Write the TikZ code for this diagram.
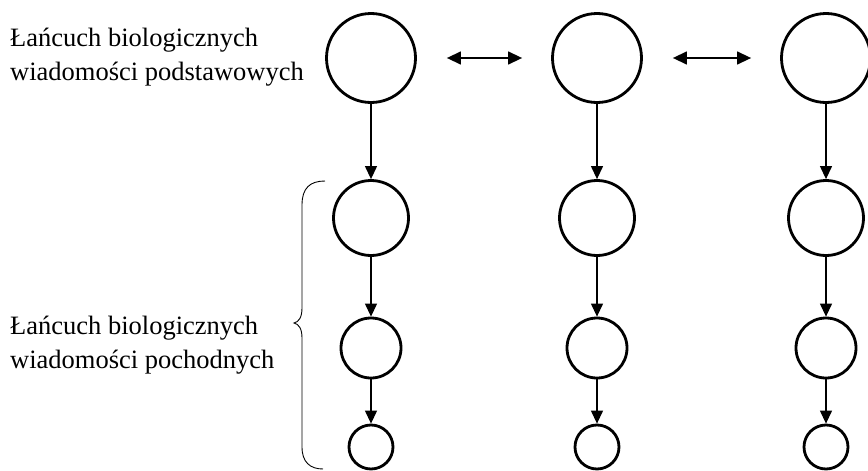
\documentclass[tikz,border=0pt]{standalone}
\usepackage{fontspec}
\setmainfont{Liberation Serif}
\usetikzlibrary{arrows.meta}
\begin{document}
\begin{tikzpicture}[x=1pt,y=-1pt,
  ring/.style={circle,draw,line width=2.8pt,inner sep=0pt},
  bigring/.style={ring,minimum size=89pt},
  midring/.style={ring,minimum size=75pt},
  smallring/.style={ring,minimum size=60pt},
  tinyring/.style={ring,minimum size=44pt},
  link/.style={line width=1.2pt,-{Triangle[length=13pt,width=12pt]}},
  swap/.style={line width=1.4pt,{Triangle[length=14pt,width=13pt]}-{Triangle[length=14pt,width=13pt]},
    shorten <=30pt,shorten >=29pt},
  caption/.style={anchor=base west,inner sep=0pt,align=left,
    font=\fontsize{26.5pt}{34pt}\selectfont}
]
\useasboundingbox (0,0) rectangle (868,471);

% three columns of chains
\foreach \c/\x in {a/371,b/597,c/826}{
  \node[bigring]   (\c1) at (\x,58)  {};
  \node[midring]   (\c2) at (\x,218) {};
  \node[smallring] (\c3) at (\x,348) {};
  \node[tinyring]  (\c4) at (\x,447) {};
  \draw[link] (\c1) -- (\c2);
  \draw[link] (\c2) -- (\c3);
  \draw[link] (\c3) -- (\c4);
}

% links between the basic chains
\draw[swap] (a1) -- (b1);
\draw[swap] (b1) -- (c1);

% labels (base anchor sits on the last line)
\node[caption] (basic) at (10,80) {Łańcuch biologicznych\\wiadomości podstawowych};
\node[caption] (derived) at (10,368) {Łańcuch biologicznych\\wiadomości pochodnych};

% brace grouping the derived rows
\draw[line width=0.9pt] (325,181) .. controls (310,181) and (302,188) .. (302,205)
  -- (302,308) .. controls (302,317) and (299,322) .. (294,323)
  .. controls (299,324) and (302,329) .. (302,338)
  -- (302,447) .. controls (302,462) and (310,469) .. (323,469);
\end{tikzpicture}
\end{document}
